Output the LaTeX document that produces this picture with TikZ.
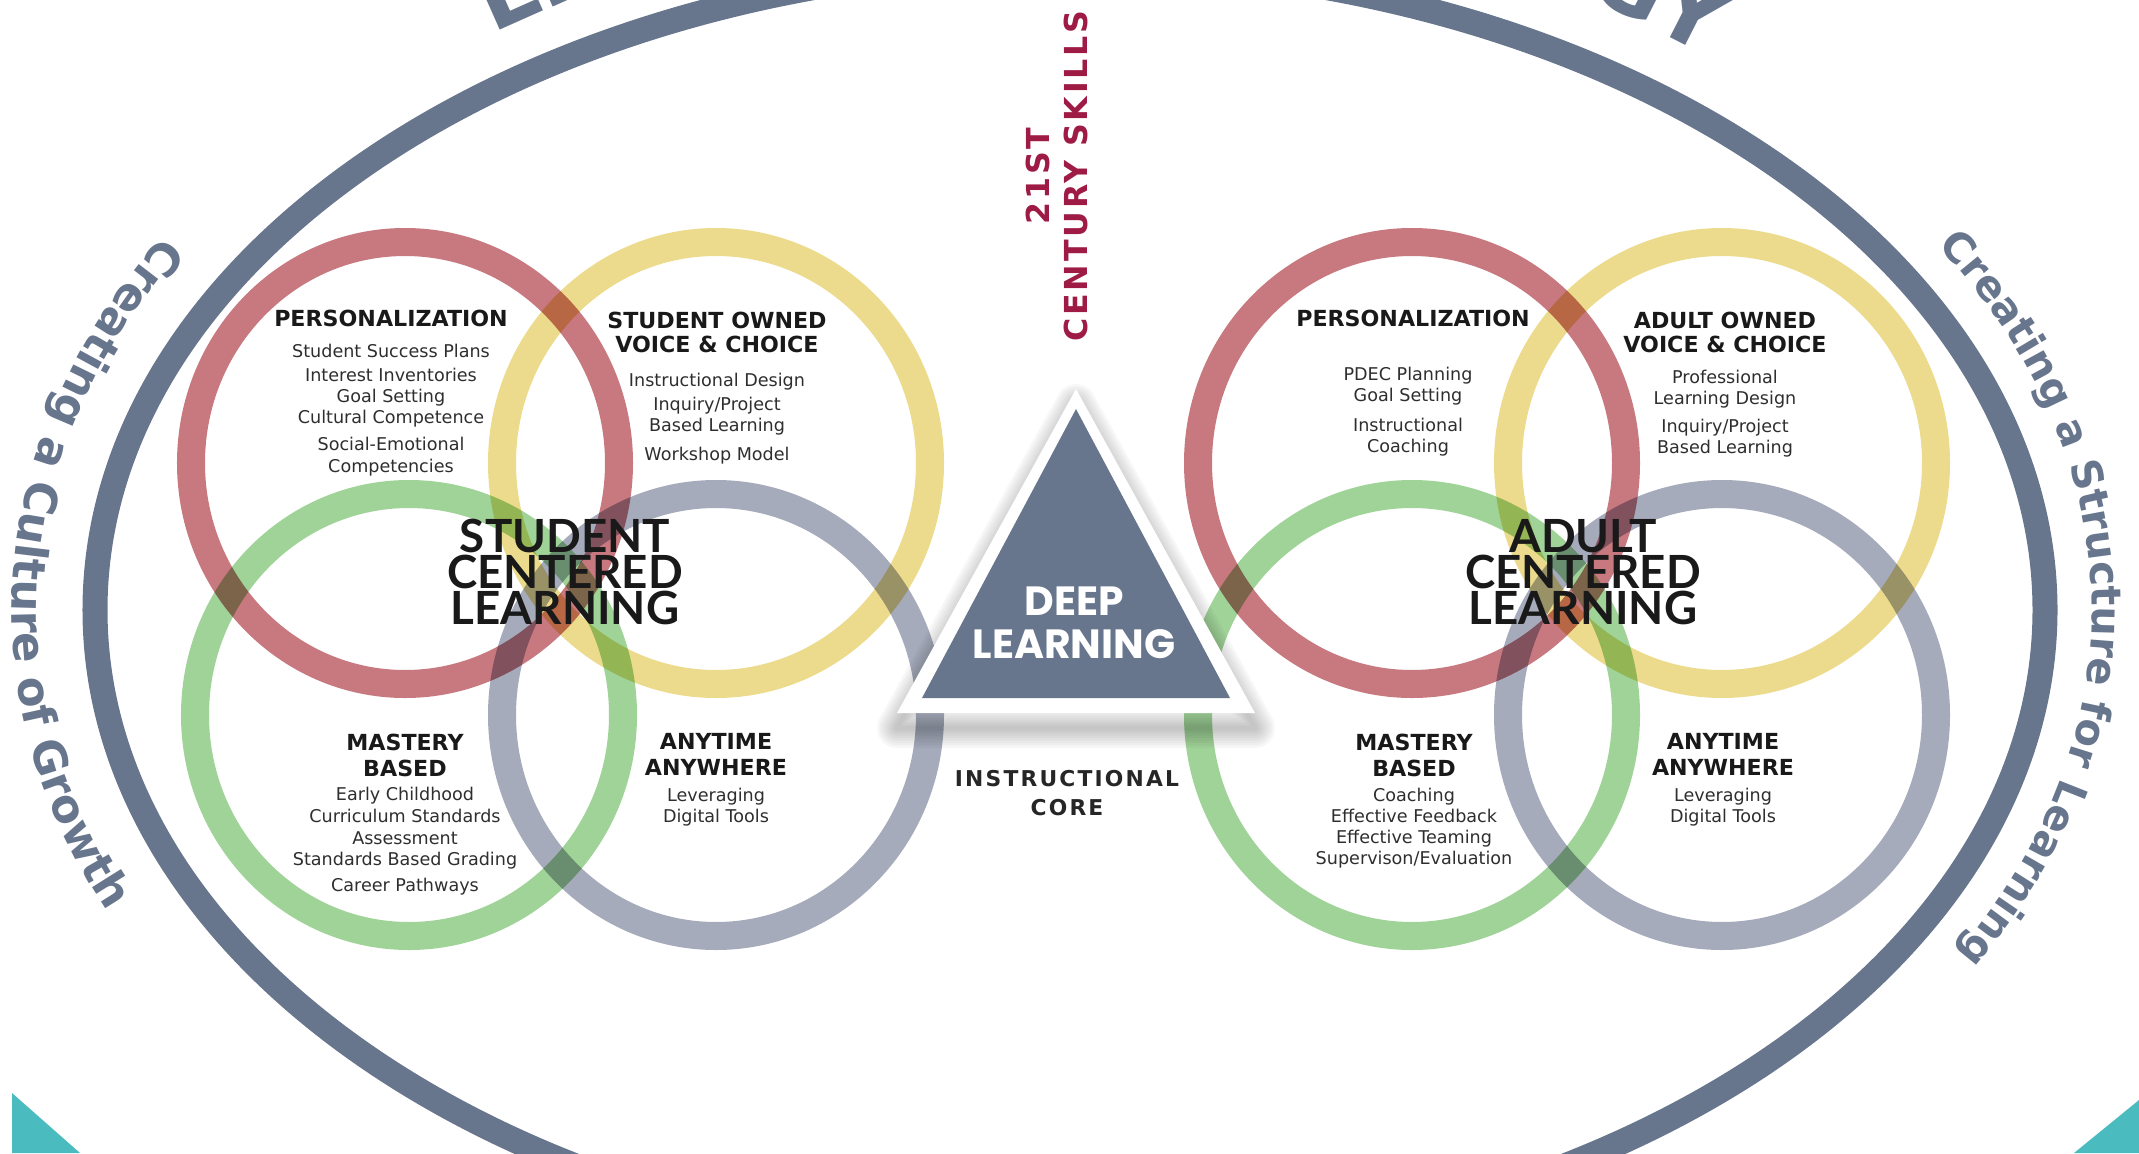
\documentclass[tikz,border=0pt]{standalone}
\usepackage{fontspec}
\setmainfont{DejaVu Sans}
\newfontfamily\bigfont{Lato}
\newfontfamily\deepfont{Poppins}
\newfontfamily\spacedfont{DejaVu Sans}[LetterSpace=10]
\newfontfamily\skillfont{DejaVu Sans}[LetterSpace=9]
\usetikzlibrary{decorations.text}
\definecolor{slate}{HTML}{67758D}
\definecolor{ringred}{HTML}{C7797F}
\definecolor{ringyellow}{HTML}{ECDB8C}
\definecolor{ringgreen}{HTML}{A0D398}
\definecolor{ringgray}{HTML}{A6ABBB}
\definecolor{cornerteal}{HTML}{4ABBBE}
\definecolor{skillred}{HTML}{9E1B45}
\tikzstyle{ring}=[line width=0.28cm, blend mode=multiply]
\tikzstyle{title}=[inner sep=0pt, align=center, text=black!90, font=\fontsize{6.3}{6.8}\selectfont\bfseries]
\tikzstyle{items}=[inner sep=0pt, align=center, anchor=north, text=black!82, font=\fontsize{5}{6}\selectfont]
\tikzstyle{bigtext}=[inner sep=0pt, align=center, text=black!90, font=\bigfont\fontsize{13}{10.2}\selectfont\bfseries]

\begin{document}
\begin{tikzpicture}[
        x=0.01cm, y=0.01cm,
        cut/.style={inner sep=0pt, text=slate, font=\fontsize{26}{26}\selectfont\bfseries},
        side/.style={decorate, decoration={text along path, text align=center, text color=slate, text={#1}}}
        ]
        \clip (0,0) rectangle (2139,1153);
        \fill[cornerteal] (12,60) -- (80,0) -- (12,0) -- cycle;
        \fill[cornerteal] (2139,53) -- (2074,0) -- (2139,0) -- cycle;
        \draw[slate, line width=0.25cm] (1070,543) ellipse [x radius=975, y radius=645];
        \node[cut, rotate=24, anchor=base west] (topl) at (492,1119) {LE};
        \node[cut, rotate=-27, anchor=base east] (topr) at (1708,1096) {GY};
        \path[side={|\fontsize{12.8}{12.8}\selectfont\bfseries|Creating a Culture of Growth}]
            ([shift={(138:1058 and 728)}]1070,543) arc [start angle=138, end angle=216, x radius=1058, y radius=728];
        \path[side={|\fontsize{11.8}{11.8}\selectfont\bfseries|Creating a Structure for Learning}]
            ([shift={(38:1022 and 690)}]1070,543) arc [start angle=38, end angle=-36, x radius=1022, y radius=690];
        \foreach \cx/\cy/\col in {405/690/ringred, 716/690/ringyellow, 409/438/ringgreen, 716/438/ringgray,
                                  1412/690/ringred, 1722/690/ringyellow, 1412/438/ringgreen, 1722/438/ringgray}
            \draw[ring, draw=\col] (\cx,\cy) ellipse [x radius=214, y radius=221];
        \coordinate (oapex) at (1076,764);
        \coordinate (obl) at (897,440);
        \coordinate (obr) at (1255,440);
        \foreach \w in {1,...,8}
            \draw[black, opacity=0.03, line width=\w*0.5mm, line join=round]
                ([yshift=-1.5mm]oapex) -- ([yshift=-1.5mm]obl) -- ([yshift=-1.5mm]obr) -- cycle;
        \fill[white] (oapex) -- (obl) -- (obr) -- cycle;
        \fill[slate] (1076,744) coordinate (apex) -- (922,455) coordinate (bl) -- (1230,455) coordinate (br) -- cycle;
        \node[inner sep=0pt, align=center, text=white, font=\deepfont\fontsize{11.6}{12.2}\selectfont\bfseries] (deep) at (1074,530) {DEEP\\LEARNING};
        \node[rotate=90, inner sep=0pt, align=center, text=skillred, font=\skillfont\fontsize{9}{11}\selectfont\bfseries] (skills) at (1057,977) {21ST\\CENTURY SKILLS};
        \node[inner sep=0pt, align=center, text=black!85, font=\spacedfont\fontsize{6.2}{8.25}\selectfont\bfseries] (core) at (1067,360) {INSTRUCTIONAL\\CORE};

        \node[title] (lpers) at (391,835) {PERSONALIZATION};
        \node[items] (lpersi) at (391,810) {Student Success Plans\\[1pt] Interest Inventories\\ Goal Setting\\ Cultural Competence\\[1.7pt] Social-Emotional\\ Competencies};
        \node[title, anchor=north] (lvoice) at (717,842) {STUDENT OWNED\\ VOICE \& CHOICE};
        \node[items] (lvoicei) at (717,781) {Instructional Design\\[1pt] Inquiry/Project\\ Based Learning\\[2.2pt] Workshop Model};
        \node[title, anchor=north] (lmast) at (405,420) {MASTERY\\[0.6pt] BASED};
        \node[items] (lmasti) at (405,367) {Early Childhood\\[0.5pt] Curriculum Standards\\ Assessment\\ Standards Based Grading\\[1.4pt] Career Pathways};
        \node[title, anchor=north] (lany) at (716,420) {ANYTIME\\[0.6pt] ANYWHERE};
        \node[items] (lanyi) at (716,366) {Leveraging\\ Digital Tools};
        \node[bigtext] (lcenter) at (565,581) {STUDENT\\ CENTERED\\ LEARNING};

        \node[title] (rpers) at (1413,835) {PERSONALIZATION};
        \node[items] (rpersi) at (1408,787) {PDEC Planning\\ Goal Setting\\[2.6pt] Instructional\\ Coaching};
        \node[title, anchor=north] (rvoice) at (1725,842) {ADULT OWNED\\ VOICE \& CHOICE};
        \node[items] (rvoicei) at (1725,784) {Professional\\ Learning Design\\[2pt] Inquiry/Project\\ Based Learning};
        \node[title, anchor=north] (rmast) at (1414,420) {MASTERY\\[0.6pt] BASED};
        \node[items] (rmasti) at (1414,366) {Coaching\\ Effective Feedback\\ Effective Teaming\\ Supervison/Evaluation};
        \node[title, anchor=north] (rany) at (1723,420) {ANYTIME\\[0.6pt] ANYWHERE};
        \node[items] (ranyi) at (1723,366) {Leveraging\\ Digital Tools};
        \node[bigtext] (rcenter) at (1583,581) {ADULT\\ CENTERED\\ LEARNING};
    \end{tikzpicture}
\end{document}
